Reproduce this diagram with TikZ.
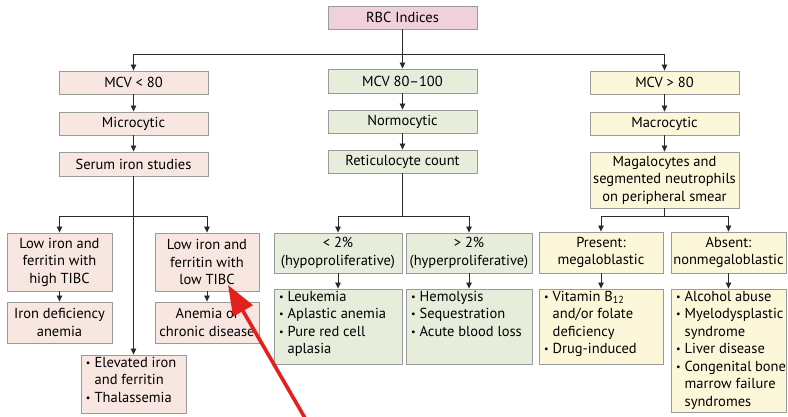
\documentclass[tikz,border=0pt]{standalone}
\usepackage{fontspec}
\setmainfont{PT Sans}
\usetikzlibrary{arrows.meta}
\definecolor{pinkL}{HTML}{F8E6E0}
\definecolor{greenM}{HTML}{E6EDDA}
\definecolor{yellowR}{HTML}{FDF7DA}
\definecolor{rbcC}{HTML}{F0D0DA}
\definecolor{edgeC}{HTML}{9A9A9A}
\definecolor{lineC}{HTML}{2A2A2A}
\definecolor{redA}{HTML}{E3201B}
\newcommand\fs{\fontsize{14.5}{17.5}\selectfont}
\newcommand\bitem[1]{\par\hangindent=0.6em\hangafter=1\noindent\makebox[0.6em][l]{\raisebox{0.15ex}{\scalebox{0.7}{\textbullet}}}#1}
\newcommand\lstbox[3]{\parbox[c][#2pt][t]{#1pt}{\raggedright\leftskip=5pt\vspace{2pt}#3}}
\tikzset{
  box/.style={draw=edgeC, line width=0.9pt, inner sep=0pt, align=center, font=\fs},
  lbox/.style={box, fill=pinkL},
  gbox/.style={box, fill=greenM},
  ybox/.style={box, fill=yellowR},
  arr/.style={draw=lineC, line width=0.8pt, -{Triangle[length=6pt,width=5.5pt]}},
  ln/.style={draw=lineC, line width=0.8pt},
}
\begin{document}
\begin{tikzpicture}[x=1pt,y=-1pt]
\useasboundingbox (0,0) rectangle (788,416);
% top
\node[box, fill=rbcC, minimum width=149pt, minimum height=23pt] (rbc) at (402.5,17.5) {RBC Indices};
% left column
\node[lbox, minimum width=149pt, minimum height=23pt] (mcvl) at (133.5,82.5) {MCV < 80};
\node[lbox, minimum width=149pt, minimum height=23pt] (micro) at (133.5,123.5) {Microcytic};
\node[lbox, minimum width=149pt, minimum height=24pt] (serum) at (133.5,164) {Serum iron studies};
% middle column
\node[gbox, minimum width=149pt, minimum height=24pt] (mcvn) at (402.5,81) {MCV 80--100};
\node[gbox, minimum width=149pt, minimum height=23pt] (normo) at (402.5,121.5) {Normocytic};
\node[gbox, minimum width=149pt, minimum height=23pt] (retic) at (402.5,161.5) {Reticulocyte count};
% right column
\node[ybox, minimum width=149pt, minimum height=23pt] (mcvh) at (664.5,82.5) {MCV > 80};
\node[ybox, minimum width=149pt, minimum height=23pt] (macro) at (664.5,123.5) {Macrocytic};
\node[ybox, minimum width=149pt, minimum height=56pt] (mega) at (664.5,180) {Magalocytes and\\segmented neutrophils\\on peripheral smear};
% left bottom
\node[lbox, minimum width=105pt, minimum height=58pt] (lhigh) at (59.5,262) {Low iron and\\ferritin with\\high TIBC};
\node[lbox, minimum width=105pt, minimum height=41pt] (ida) at (59.5,322.5) {Iron deficiency\\anemia};
\node[lbox, minimum width=104pt, minimum height=58pt] (llow) at (207,262) {Low iron and\\ferritin with\\low TIBC};
\node[lbox, minimum width=104pt, minimum height=41pt] (acd) at (207,322.5) {Anemia of\\chronic disease};
\node[lbox, align=left] (elev) at (133.5,384) {\lstbox{105}{58}{\bitem{Elevated iron\newline and ferritin}\bitem{Thalassemia}}};
% middle bottom
\node[gbox, minimum width=128pt, minimum height=40pt] (lt2) at (338,253) {< 2\%\\(hypoproliferative)};
\node[gbox, minimum width=126pt, minimum height=40pt] (gt2) at (469,253) {> 2\%\\(hyperproliferative)};
\node[gbox, align=left] (leuk) at (338,326.5) {\lstbox{128}{75}{\bitem{Leukemia}\bitem{Aplastic anemia}\bitem{Pure red cell\newline aplasia}}};
\node[gbox, align=left] (hemo) at (469,326.5) {\lstbox{126}{75}{\bitem{Hemolysis}\bitem{Sequestration}\bitem{Acute blood loss}}};
% right bottom
\node[ybox, minimum width=124pt, minimum height=41pt] (pres) at (601,252.5) {Present:\\megaloblastic};
\node[ybox, minimum width=115pt, minimum height=41pt] (abs) at (728.5,252.5) {Absent:\\nonmegaloblastic};
\node[ybox, align=left] (vit) at (601,326.5) {\lstbox{124}{75}{\bitem{Vitamin B\textsubscript{12}\newline and/or folate\newline deficiency}\bitem{Drug-induced}}};
\node[ybox, align=left] (alc) at (728.5,350.5) {\lstbox{115}{123}{\bitem{Alcohol abuse}\bitem{Myelodysplastic\newline syndrome}\bitem{Liver disease}\bitem{Congenital bone\newline marrow failure\newline syndromes}}};
% connectors
\coordinate (j1) at (402.5,54);
\draw[ln] (rbc.south) -- (j1);
\draw[arr] (j1) -| (mcvl.north);
\draw[arr] (j1) -| (mcvh.north);
\draw[arr] (j1) -- (mcvn.north);
\draw[arr] (mcvl) -- (micro);
\draw[arr] (micro) -- (serum);
\draw[arr] (mcvn) -- (normo);
\draw[arr] (normo) -- (retic);
\draw[arr] (mcvh) -- (macro);
\draw[arr] (macro) -- (mega);
\coordinate (j2) at (133.5,216);
\draw[ln] (serum.south) -- (j2);
\draw[arr] (j2) -| (lhigh.north);
\draw[arr] (j2) -| (llow.north);
\draw[arr] (j2) -- (elev.north);
\draw[arr] (lhigh) -- (ida);
\draw[arr] (llow) -- (acd);
\coordinate (j3) at (402.5,216);
\draw[ln] (retic.south) -- (j3);
\draw[arr] (j3) -| (lt2.north);
\draw[arr] (j3) -| (gt2.north);
\draw[arr] (lt2) -- (leuk);
\draw[arr] (gt2) -- (hemo);
\coordinate (j4) at (664.5,216);
\draw[ln] (mega.south) -- (j4);
\draw[arr] (j4) -| (pres.north);
\draw[arr] (j4) -| (abs.north);
\draw[arr] (pres) -- (vit);
\draw[arr] (abs) -- (alc);
% red pointer arrow
\coordinate (rtail) at (305,418);
\coordinate (rtip) at (228,285);
\draw[redA, line width=3.6pt, -{Triangle[length=30pt,width=22pt]}] (rtail) -- (rtip);
\end{tikzpicture}
\end{document}
